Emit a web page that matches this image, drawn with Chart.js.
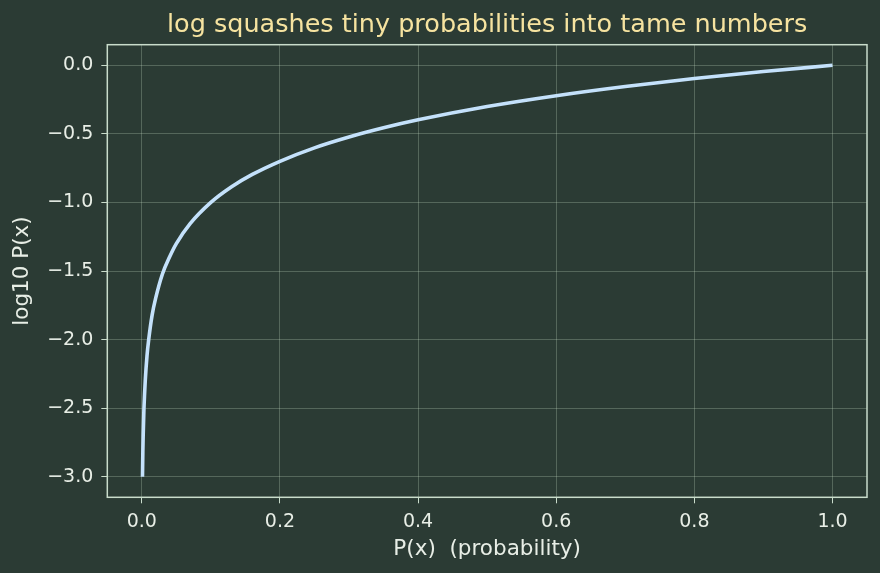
<!DOCTYPE html>
<html>
<head>
<meta charset="utf-8">
<script src="https://cdn.jsdelivr.net/npm/chart.js@4"></script>
<style>
  html,body{margin:0;padding:0;background:#2b3b34;}
  #wrap{width:880px;height:573px;}
</style>
</head>
<body>
<div id="wrap"><canvas id="chart" width="880" height="573"></canvas></div>
<script>
// values
const probs = [0.001,0.0015,0.002,0.003,0.004,0.005,0.0075,0.01,0.015,0.02,0.03,0.04,0.05,0.07,0.1,0.13,0.16,0.2,0.25,0.3,0.35,0.4,0.5,0.6,0.7,0.8,0.9,1.0];
const logVals = [-3.0,-2.82,-2.7,-2.52,-2.4,-2.3,-2.12,-2.0,-1.82,-1.7,-1.52,-1.4,-1.3,-1.155,-1.0,-0.886,-0.796,-0.7,-0.602,-0.523,-0.456,-0.398,-0.301,-0.222,-0.155,-0.097,-0.046,0.0];
const xTicks = [0.0,0.2,0.4,0.6,0.8,1.0];
const yTicks = [-3.0,-2.5,-2.0,-1.5,-1.0,-0.5,0.0];

const bg = '#2b3b34';
const spine = '#c9dccb';
const gridCol = 'rgba(200,220,200,0.27)';
const textCol = '#e8eee6';
const font = 'DejaVu Sans';

function fmt(v){
  let s = Math.abs(v) < 1e-9 ? '0.0' : v.toFixed(1);
  return s.replace('-', '\u2212');
}

const boxPlugin = {
  id:'box',
  beforeDraw(c){
    const ctx = c.ctx;
    ctx.save();
    ctx.fillStyle = bg;
    ctx.fillRect(0,0,c.width,c.height);
    ctx.restore();
  },
  afterDatasetsDraw(c){
    const a = c.chartArea, ctx = c.ctx;
    ctx.save();
    ctx.strokeStyle = spine;
    ctx.lineWidth = 1.5;
    ctx.strokeRect(a.left, a.top, a.right-a.left, a.bottom-a.top);
    ctx.restore();
  }
};

new Chart(document.getElementById('chart'), {
  type:'line',
  data:{
    datasets:[{
      data: probs.map((p,i)=>({x:p, y:logVals[i]})),
      borderColor:'#c4e1fb',
      borderWidth:3.6,
      pointRadius:0,
      cubicInterpolationMode:'monotone',
      fill:false
    }]
  },
  plugins:[boxPlugin],
  options:{
    responsive:false,
    animation:false,
    layout:{padding:{left:0,right:13,top:0,bottom:0}},
    plugins:{
      legend:{display:false},
      tooltip:{enabled:false},
      title:{
        display:true,
        fullSize:false,
        text:'log squashes tiny probabilities into tame numbers',
        color:'#f6e3a0',
        font:{family:font,size:25.5,weight:'normal'},
        padding:{top:10,bottom:4.1}
      }
    },
    scales:{
      x:{
        type:'linear',
        min:-0.04995,
        max:1.04995,
        afterBuildTicks(s){ s.ticks = xTicks.map(v=>({value:v})); },
        afterFit(s){ s.height = 75.7; },
        ticks:{color:textCol,font:{family:font,size:19},padding:7,maxRotation:0,callback:v=>fmt(v)},
        grid:{color:gridCol,tickColor:spine,tickLength:6,lineWidth:1},
        border:{display:false},
        title:{display:true,text:'P(x)  (probability)',color:textCol,font:{family:font,size:21.5},padding:{top:2,bottom:11}}
      },
      y:{
        type:'linear',
        min:-3.15,
        max:0.15,
        afterBuildTicks(s){ s.ticks = yTicks.map(v=>({value:v})); },
        afterFit(s){ s.width = 107.3; },
        ticks:{color:textCol,font:{family:font,size:19},padding:8,callback:v=>fmt(v)},
        grid:{color:gridCol,tickColor:spine,tickLength:6,lineWidth:1},
        border:{display:false},
        title:{display:true,text:'log10 P(x)',color:textCol,font:{family:font,size:21.5},padding:{top:10,bottom:4}}
      }
    }
  }
});
</script>
</body>
</html>
